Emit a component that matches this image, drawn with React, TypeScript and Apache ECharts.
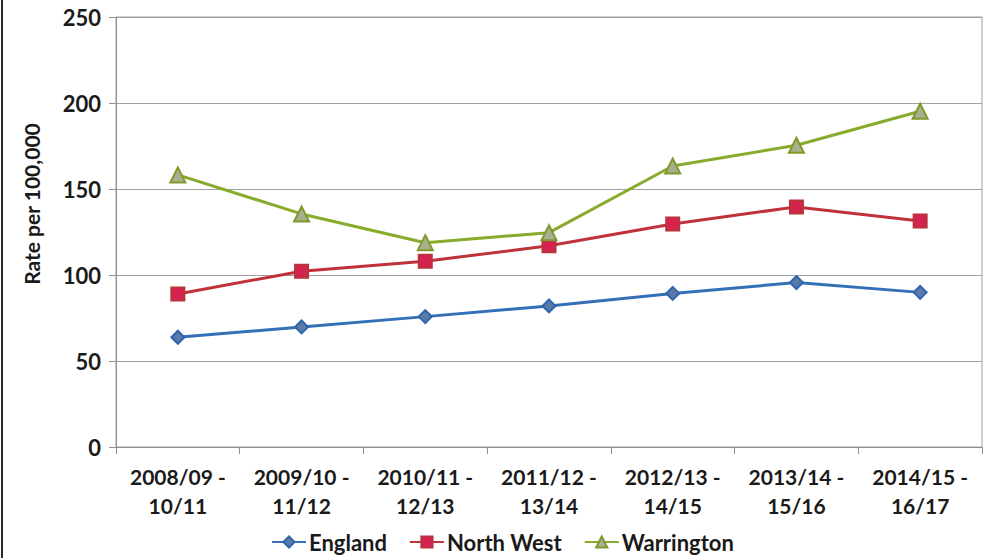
import React, { useEffect, useRef } from "react";
import * as echarts from "echarts";

const categories = [
  "2008/09 -\n10/11",
  "2009/10 -\n11/12",
  "2010/11 -\n12/13",
  "2011/12 -\n13/14",
  "2012/13 -\n14/15",
  "2013/14 -\n15/16",
  "2014/15 -\n16/17",
];
const england = [63.8, 69.8, 75.8, 82.0, 89.3, 95.6, 89.9];
const northWest = [89.0, 102.2, 108.0, 117.0, 129.7, 139.6, 131.4];
const warrington = [158.2, 135.5, 118.8, 124.6, 163.4, 175.4, 195.2];
const yTicks = { min: 0, max: 250, interval: 50 };

const FONT = "Lato";
const TEXT = "#1a1a1a";

export default function App() {
  const ref = useRef<HTMLDivElement>(null);
  useEffect(() => {
    if (!ref.current) return;
    const chart = echarts.init(ref.current, undefined, { renderer: "svg" });
    chart.setOption({
      animation: false,
      backgroundColor: "#ffffff",
      textStyle: { fontFamily: FONT },
      grid: {
        left: 116,
        right: 11,
        top: 17,
        bottom: 111,
        show: true,
        borderColor: "#a0a0a0",
        borderWidth: 1,
      },
      legend: {
        bottom: 0,
        left: 266,
        itemWidth: 34,
        itemHeight: 14,
        itemGap: 22,
        textStyle: { fontFamily: FONT, fontWeight: "bold", fontSize: 22, color: TEXT, padding: [0, 0, 0, -2] },
        data: ["England", "North West", "Warrington"],
      },
      graphic: [
        {
          type: "rect",
          shape: { x: 1, y: 0, width: 2, height: 558 },
          style: { fill: "#2a2a2a" },
        },
        {
          type: "text",
          x: 31,
          y: 204,
          rotation: Math.PI / 2,
          style: {
            text: "Rate per 100,000",
            font: `bold 21px ${FONT}`,
            fill: TEXT,
            align: "center",
            verticalAlign: "middle",
          },
        },
      ],
      xAxis: {
        type: "category",
        data: categories,
        boundaryGap: true,
        axisLine: { lineStyle: { color: "#909090", width: 1 } },
        axisTick: { show: true, interval: 0, length: 7, lineStyle: { color: "#909090" } },
        axisLabel: {
          interval: 0,
          margin: 15,
          fontFamily: FONT,
          fontWeight: "bold",
          fontSize: 21,
          lineHeight: 29,
          color: TEXT,
        },
      },
      yAxis: {
        type: "value",
        min: yTicks.min,
        max: yTicks.max,
        interval: yTicks.interval,
        axisLine: { show: true, lineStyle: { color: "#909090", width: 1 } },
        axisTick: { show: true, length: 7, lineStyle: { color: "#909090" } },
        splitLine: { show: true, lineStyle: { color: "#a0a0a0", width: 1 } },
        axisLabel: {
          margin: 15,
          fontFamily: FONT,
          fontWeight: "bold",
          fontSize: 22,
          color: TEXT,
        },
      },
      series: [
        {
          name: "England",
          type: "line",
          data: england,
          symbol: "diamond",
          symbolSize: 13,
          lineStyle: { color: "#3370b8", width: 3 },
          itemStyle: { color: "#5a7aa8", borderColor: "#2f65ae", borderWidth: 2 },
          z: 3,
        },
        {
          name: "North West",
          type: "line",
          data: northWest,
          symbol: "rect",
          symbolSize: 13,
          lineStyle: { color: "#c1313a", width: 3 },
          itemStyle: { color: "#d4234e", borderColor: "#b8333a", borderWidth: 2 },
          z: 4,
        },
        {
          name: "Warrington",
          type: "line",
          data: warrington,
          symbol: "triangle",
          symbolSize: 15,
          lineStyle: { color: "#87ab2c", width: 3 },
          itemStyle: { color: "#a9ae90", borderColor: "#7e9b2a", borderWidth: 2 },
          z: 5,
        },
      ],
    });
    return () => chart.dispose();
  }, []);
  return (
    <div
      ref={ref}
      style={{ position: "fixed", left: 0, top: 0, width: 993, height: 558 }}
    />
  );
}
